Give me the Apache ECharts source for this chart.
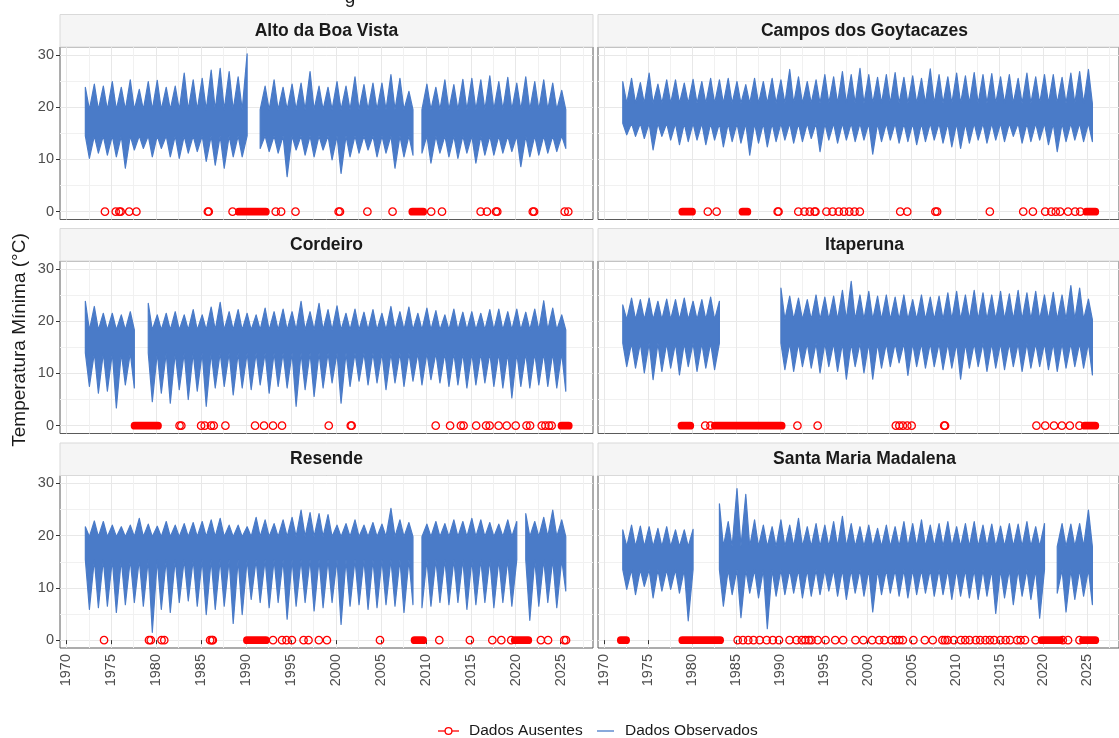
<!DOCTYPE html>
<html><head><meta charset="utf-8">
<script src="https://cdn.jsdelivr.net/npm/echarts@6/dist/echarts.min.js"></script>
<style>html,body{margin:0;padding:0;background:#fff}#c{width:1119px;height:738px}</style>
</head><body><div id="c"></div>
<script>
// ---------- DATA ----------
const years = [1972,1973,1974,1975,1976,1977,1978,1979,1980,1981,
  1982,1983,1984,1985,1986,1987,1988,1989,1990,1991,
  1992,1993,1994,1995,1996,1997,1998,1999,2000,2001,
  2002,2003,2004,2005,2006,2007,2008,2009,2010,2011,
  2012,2013,2014,2015,2016,2017,2018,2019,2020,2021,
  2022,2023,2024,2025];

const panelNames = ["Alto da Boa Vista","Campos dos Goytacazes","Cordeiro","Itaperuna","Resende","Santa Maria Madalena"];

// annual summer peak / winter trough of daily minimum temperature (ºC)
const altoHi = [23.8,24.4,24.0,24.9,23.8,25.2,23.4,24.9,25.1,23.8,
  24.0,26.5,25.2,25.5,27.1,27.4,26.8,25.8,30.2,null,
  24.0,25.2,23.8,24.4,24.6,26.8,24.0,23.8,24.9,24.0,
  25.8,24.3,24.6,24.6,26.2,25.5,23.0,null,24.4,23.8,
  25.2,24.3,25.3,25.5,25.2,26.0,24.9,25.7,24.6,25.8,
  24.9,25.2,24.6,23.2];
const altoLo = [10.2,11.2,10.8,10.5,8.3,11.8,12.1,10.5,12.1,10.5,
  10.2,11.2,11.5,9.6,8.9,8.3,10.5,10.5,null,12.1,
  11.5,11.2,6.7,11.8,10.8,10.5,11.8,9.9,7.3,10.5,
  11.2,11.8,10.5,11.2,8.3,10.5,10.8,11.2,9.3,11.2,
  10.5,10.2,11.2,9.3,10.8,10.8,11.2,11.5,8.6,10.5,
  10.8,11.2,11.5,12.1];

const campHi = [24.9,25.5,24.7,26.5,24.4,25.2,25.2,24.6,25.3,24.9,
  25.5,25.2,25.5,24.9,24.3,25.5,24.9,25.5,25.2,27.2,
  25.8,24.9,25.2,26.2,25.8,26.8,26.2,27.4,26.2,25.7,
  26.2,26.6,25.7,26.0,25.5,27.3,26.2,25.8,26.5,26.0,
  26.6,26.2,26.4,25.8,26.2,25.5,26.5,25.8,26.2,26.2,
  25.7,26.5,26.8,27.2];
const campLo = [14.7,14.4,14.0,11.8,14.4,13.7,12.8,13.4,13.7,12.8,
  13.7,12.4,13.4,13.1,10.8,13.1,12.4,13.4,13.7,13.1,
  13.4,14.0,11.5,13.7,13.1,13.7,13.4,13.7,11.0,13.4,
  13.7,13.1,13.4,12.8,13.4,13.7,13.1,12.4,12.1,13.1,
  13.7,13.1,13.7,13.4,14.4,13.1,13.4,13.7,12.8,11.5,
  13.4,13.7,13.4,13.4];

const cordHi = [23.8,22.8,21.5,21.5,21.2,21.8,null,23.4,21.2,21.5,
  21.8,21.2,22.2,21.2,22.7,23.6,21.8,22.2,21.5,21.2,
  22.5,21.8,22.3,21.8,23.8,21.8,23.4,22.2,22.9,21.5,
  22.3,21.7,22.2,21.5,22.8,21.8,22.7,21.5,22.5,22.0,
  21.2,22.3,21.7,21.8,21.5,22.2,22.3,21.8,22.3,21.7,
  22.3,23.9,22.5,21.2];
const cordLo = [7.5,6.2,6.6,3.4,7.8,7.2,null,4.6,6.2,4.3,
  6.9,5.0,6.6,3.7,7.2,7.5,5.9,7.2,6.9,7.8,
  6.2,7.5,7.2,3.7,6.9,5.6,7.2,8.2,4.3,7.5,
  8.5,7.8,8.2,6.9,8.2,7.5,8.5,7.8,8.8,8.2,
  7.5,7.8,7.2,7.8,8.2,7.5,7.2,5.3,7.5,7.2,
  7.8,7.5,7.2,6.6];

const itapHi = [23.1,24.4,24.1,24.4,23.8,24.2,24.1,24.4,23.8,24.1,
  24.6,23.8,null,null,null,null,null,null,26.3,24.8,
  24.4,24.1,25.0,24.6,24.8,25.9,27.6,25.0,25.7,24.8,
  25.0,24.6,25.0,24.1,25.0,24.6,24.8,25.4,25.7,25.0,
  25.9,25.4,25.0,25.7,25.2,25.9,25.4,25.7,25.0,25.5,
  25.0,26.8,26.3,24.2];
const itapLo = [11.3,11.0,10.1,8.8,10.4,11.0,9.7,11.3,10.4,11.0,
  10.7,null,null,null,null,null,null,null,10.7,10.4,
  11.3,11.0,10.1,11.3,10.4,8.9,11.3,10.1,8.9,11.0,
  11.3,12.0,9.6,11.3,11.0,11.3,10.7,11.0,8.9,11.0,
  11.3,10.4,11.0,10.7,11.3,10.4,11.0,11.3,10.7,10.4,
  11.0,11.3,11.0,9.7];

const resHi = [21.7,22.8,22.7,22.0,21.7,22.0,23.3,22.2,21.8,22.7,
  22.0,22.3,22.5,22.7,23.0,23.3,22.0,22.0,21.7,23.5,
  23.0,22.3,23.0,23.5,24.9,24.4,24.2,24.0,22.0,22.3,
  23.0,22.0,22.5,22.2,25.2,23.0,22.5,null,22.2,22.7,
  22.3,23.0,22.7,23.3,23.0,22.5,22.2,23.0,22.7,24.2,
  22.7,23.5,24.9,23.0];
const resLo = [5.9,6.2,6.5,5.3,6.8,7.2,6.5,1.5,5.9,5.3,
  7.2,7.5,6.5,4.9,5.9,6.5,3.2,4.9,7.8,7.2,
  6.2,7.2,4.0,6.5,7.2,5.6,6.2,7.2,3.0,6.5,
  6.8,5.9,6.2,6.8,6.5,5.3,6.8,6.2,6.5,7.2,
  6.8,7.2,5.9,6.8,7.2,6.2,7.2,6.5,null,3.8,
  6.5,7.2,6.2,9.4];

const smmHi = [21.1,22.0,21.8,21.7,21.4,21.7,21.1,21.1,21.2,null,
  null,26.1,22.7,29.0,27.9,23.0,22.0,21.7,23.0,22.0,
  23.3,21.7,22.3,22.0,22.7,23.7,22.3,21.7,22.0,21.4,
  22.0,21.7,22.7,22.3,23.0,22.0,22.3,22.7,21.7,22.3,
  22.7,22.0,22.2,21.8,22.3,22.2,22.7,21.7,22.3,null,
  22.3,22.2,22.3,24.9];
const smmLo = [9.7,8.7,10.3,8.1,9.4,9.7,9.0,3.7,null,null,
  null,6.5,8.7,4.3,9.0,8.1,2.2,8.4,8.7,9.0,
  8.1,8.4,8.7,9.4,8.4,7.8,9.0,8.4,5.4,8.7,
  9.0,8.4,8.1,8.7,9.0,8.4,8.7,7.8,8.4,8.1,
  7.8,8.4,5.1,8.1,6.8,8.4,7.8,4.2,null,9.0,
  5.4,7.8,8.4,6.8];

// typical inner edges of the dense daily band, one value per panel (ºC):
// level the band's top falls to in winter, level its bottom rises to in summer
const bandWinterTop   = [19.5, 20.7, 18.3, 20.3, 19.8, 17.9];
const bandSummerFloor = [14.5, 16.9, 13.9, 15.8, 15.4, 13.5];

// dates (decimal years) of missing data, shown at 0
const altoMiss = [1974.3,1975.5,1975.9,1976.05,1977.0,1977.8,1985.75,1985.85,1988.5,1993.3,1993.9,1995.5,
  2000.3,2000.45,2003.5,2006.3,2010.6,2011.8,2016.1,2016.8,2017.8,2017.95,2021.9,2022.05,2025.45,2025.85];
const altoRuns = [[1989.2,1992.2],[2008.5,2009.7]];
const campMiss = [1981.8,1982.8,1989.75,1989.85,1992.1,1992.8,1993.4,1993.95,1994.05,1995.3,1996.0,1996.7,
  1997.3,1997.9,1998.5,1999.1,2003.7,2004.5,2007.7,2007.9,2013.9,2017.7,2018.8,2020.2,2020.9,2021.4,
  2021.9,2022.8,2023.6,2024.2];
const campRuns = [[1978.9,1980.0],[1985.75,1986.3],[2024.9,2025.9]];
const cordMiss = [1982.6,1982.8,1985.0,1985.4,1986.1,1986.4,1987.7,1991.0,1992.0,1993.0,1994.0,1999.2,
  2001.65,2001.75,2011.1,2012.7,2013.9,2014.2,2015.6,2016.7,2017.1,2018.1,2019.0,2020.0,2021.2,2021.6,
  2022.9,2023.3,2023.7,2024.0];
const cordRuns = [[1977.6,1980.2],[2025.1,2025.9]];
const itapMiss = [1981.5,1982.1,1992.0,1994.3,2003.2,2003.6,2004.0,2004.5,2005.0,2008.7,2008.8,
  2019.2,2020.2,2021.2,2022.1,2023.0,2024.1];
const itapRuns = [[1978.8,1979.8],[1982.6,1990.2],[2024.7,2025.9]];
const resMiss = [1974.2,1979.2,1979.4,1980.6,1980.9,1986.0,1986.2,1986.3,1993.0,1994.0,1994.5,1995.1,
  1996.4,1996.95,1998.1,1999.0,2004.9,2011.5,2014.9,2017.4,2018.4,2019.5,2022.8,2023.6,2025.4,2025.6];
const resRuns = [[1990.1,1992.2],[2008.75,2009.7],[2019.9,2021.4]];
const smmMiss = [1985.2,1985.8,1986.4,1987.0,1987.7,1988.5,1989.2,1989.9,1991.1,1991.9,1992.5,1992.9,
  1993.3,1993.6,1994.3,1995.2,1996.3,1997.2,1998.6,1999.5,2000.5,2001.3,2001.9,2002.7,2003.2,2003.6,
  2004.0,2005.2,2006.5,2007.4,2008.5,2008.8,2009.1,2009.8,2010.6,2011.1,2011.6,2012.3,2012.8,2013.4,
  2013.9,2014.4,2015.1,2015.7,2016.2,2017.0,2017.4,2017.9,2019.1,2022.2,2022.8,2024.1];
const smmRuns = [[1971.9,1972.5],[1978.9,1983.2],[2019.8,2021.9],[2024.5,2025.9]];

// axis ticks / grid lines
const xTicks = [1970,1975,1980,1985,1990,1995,2000,2005,2010,2015,2020,2025];
const xGrid = [1970,1972.5,1975,1977.5,1980,1982.5,1985,1987.5,1990,1992.5,1995,1997.5,2000,2002.5,
  2005,2007.5,2010,2012.5,2015,2017.5,2020,2022.5,2025,2027.5];
const yTicks = [0,10,20,30];
const yGrid = [0,5,10,15,20,25,30];

const legendNames = ["Dados Ausentes","Dados Observados"];
const yTitle = "Temperatura Mínima (°C)";

// ---------- CHART ----------
const his = [altoHi,campHi,cordHi,itapHi,resHi,smmHi];
const los = [altoLo,campLo,cordLo,itapLo,resLo,smmLo];
const misses = [altoMiss,campMiss,cordMiss,itapMiss,resMiss,smmMiss];
const runs = [altoRuns,campRuns,cordRuns,itapRuns,resRuns,smmRuns];

const FONT = '"Liberation Sans", Arial, Helvetica, sans-serif';
const BLUE = '#4a7bc8', RED = '#ff0000';
const X0 = 1969.3, X1 = 2028.6, Y0 = -1.5, Y1 = 31.5;
const colLeft = [60, 598], panelW = 533;
const rowTop = [47, 261, 475.5], panelH = 172.5, stripH = 32.5;
const T_PEAK = 0.12, T_TROUGH = 0.57;   // timing of summer peak / winter trough within a year

// contiguous segments of observed data: each point = [time, upper edge, lower edge]
function segments(p) {
  const hi = his[p], lo = los[p], segs = [];
  let cur = [];
  const close = () => { if (cur.length > 1) segs.push(cur); cur = []; };
  years.forEach((y, i) => {
    if (hi[i] != null) cur.push([y + T_PEAK, hi[i], bandSummerFloor[p]]); else close();
    if (lo[i] != null) cur.push([y + T_TROUGH, bandWinterTop[p], lo[i]]); else close();
  });
  close();
  return segs;
}

const grids = [], xAxes = [], yAxes = [], series = [], graphics = [];

for (let p = 0; p < 6; p++) {
  const r = Math.floor(p / 2), c = p % 2;
  const left = colLeft[c], top = rowTop[r];
  const segs = segments(p);
  grids.push({left: left, top: top, width: panelW, height: panelH, show: true,
    backgroundColor: '#ffffff', borderColor: '#5a5a5a', borderWidth: 1, containLabel: false});
  xAxes.push({type: 'value', gridIndex: p, min: X0, max: X1, position: 'bottom',
    axisLine: {show: false}, axisTick: {show: false, customValues: xGrid},
    axisLabel: {show: false}, splitLine: {show: true, lineStyle: {color: ['#e8e8e8', '#f1f1f1'], width: 1}}});
  xAxes.push({type: 'value', gridIndex: p, min: X0, max: X1, position: 'bottom', offset: 0,
    axisLine: {show: false},
    axisTick: {show: r === 2, customValues: xTicks, length: 4, lineStyle: {color: '#333333', width: 1}},
    axisLabel: {show: r === 2, customValues: xTicks, rotate: 90, margin: 6, fontSize: 14.5,
      color: '#4d4d4d', fontFamily: FONT, formatter: v => String(v)},
    splitLine: {show: false}});
  yAxes.push({type: 'value', gridIndex: p, min: Y0, max: Y1, position: 'left',
    axisLine: {show: false}, axisTick: {show: false, customValues: yGrid},
    axisLabel: {show: false}, splitLine: {show: true, lineStyle: {color: ['#e8e8e8', '#f1f1f1'], width: 1}}});
  yAxes.push({type: 'value', gridIndex: p, min: Y0, max: Y1, position: 'left', offset: 0,
    axisLine: {show: false},
    axisTick: {show: c === 0, customValues: yTicks, length: 4, lineStyle: {color: '#333333', width: 1}},
    axisLabel: {show: c === 0, customValues: yTicks, margin: 6, fontSize: 14.5,
      color: '#4d4d4d', fontFamily: FONT, formatter: v => String(v)},
    splitLine: {show: false}});

  // observed daily series: dense band between its upper and lower envelopes
  series.push({type: 'custom', name: legendNames[1], xAxisIndex: 2 * p, yAxisIndex: 2 * p,
    data: segs.map((s, k) => [s[0][0], s[s.length - 1][0], 15, k]), encode: {x: [0, 1], y: 2},
    z: 2, silent: true, clip: true,
    renderItem: function (params, api) {
      const s = segs[api.value(3)];
      const up = s.map(q => api.coord([q[0], q[1]]));
      const dn = s.map(q => api.coord([q[0], q[2]])).reverse();
      return {type: 'polygon', shape: {points: up.concat(dn)},
        style: {fill: BLUE, stroke: BLUE, lineWidth: 1.2, lineJoin: 'round'}};
    }});
  // missing data: continuous runs
  series.push({type: 'custom', name: legendNames[0], xAxisIndex: 2 * p, yAxisIndex: 2 * p,
    data: runs[p].map(rn => [rn[0], rn[1], 0]), encode: {x: [0, 1], y: 2}, z: 3, silent: true,
    renderItem: function (params, api) {
      const a = api.coord([api.value(0), 0]);
      const b = api.coord([api.value(1), 0]);
      const h = 7.8;
      return {type: 'rect', shape: {x: a[0] - h / 2, y: a[1] - h / 2, width: b[0] - a[0] + h, height: h, r: h / 2},
        style: {fill: RED}};
    }});
  // missing data: isolated days
  series.push({type: 'scatter', name: legendNames[0], xAxisIndex: 2 * p, yAxisIndex: 2 * p,
    data: misses[p].map(x => [x, 0]), symbol: 'circle', symbolSize: 7.4, z: 4, silent: true,
    itemStyle: {color: 'rgba(255,255,255,0)', borderColor: RED, borderWidth: 1.3, opacity: 1}});

  // strip
  graphics.push({type: 'rect', shape: {x: left, y: top - stripH, width: panelW, height: stripH},
    style: {fill: '#f5f5f5', stroke: '#d9d9d9', lineWidth: 1}, z: 1, silent: true});
  graphics.push({type: 'text', x: left + panelW / 2, y: top - stripH / 2, z: 2, silent: true,
    style: {text: panelNames[p], font: 'bold 17.5px ' + FONT, fill: '#1a1a1a',
      align: 'center', verticalAlign: 'middle', textAlign: 'center', textVerticalAlign: 'middle'}});
}

// y-axis title
graphics.push({type: 'text', x: 20, y: 340, rotation: Math.PI / 2, silent: true,
  style: {text: yTitle, font: '19px ' + FONT, fill: '#1a1a1a',
    align: 'center', verticalAlign: 'middle', textAlign: 'center', textVerticalAlign: 'middle'}});
// cropped remnant of the figure title at the very top
graphics.push({type: 'text', x: 350, y: 7, silent: true,
  style: {text: 'g', font: '19px ' + FONT, fill: '#1a1a1a', align: 'center', verticalAlign: 'bottom',
    textAlign: 'center', textVerticalAlign: 'bottom'}});
// legend
const LY = 731;
graphics.push({type: 'line', shape: {x1: 438, y1: LY, x2: 459, y2: LY}, style: {stroke: RED, lineWidth: 1.3}, silent: true});
graphics.push({type: 'circle', shape: {cx: 448.5, cy: LY, r: 3.4}, style: {fill: '#fff', stroke: RED, lineWidth: 1.3}, silent: true});
graphics.push({type: 'text', x: 469, y: LY, silent: true,
  style: {text: legendNames[0], font: '15.5px ' + FONT, fill: '#1a1a1a', align: 'left', verticalAlign: 'middle',
    textAlign: 'left', textVerticalAlign: 'middle'}});
graphics.push({type: 'line', shape: {x1: 597, y1: LY, x2: 614, y2: LY}, style: {stroke: BLUE, lineWidth: 1.3}, silent: true});
graphics.push({type: 'text', x: 625, y: LY, silent: true,
  style: {text: legendNames[1], font: '15.5px ' + FONT, fill: '#1a1a1a', align: 'left', verticalAlign: 'middle',
    textAlign: 'left', textVerticalAlign: 'middle'}});

const chart = echarts.init(document.getElementById('c'), null, {renderer: 'canvas'});
chart.setOption({
  animation: false,
  backgroundColor: '#ffffff',
  textStyle: {fontFamily: FONT},
  grid: grids, xAxis: xAxes, yAxis: yAxes, series: series, graphic: graphics
});
</script></body></html>
